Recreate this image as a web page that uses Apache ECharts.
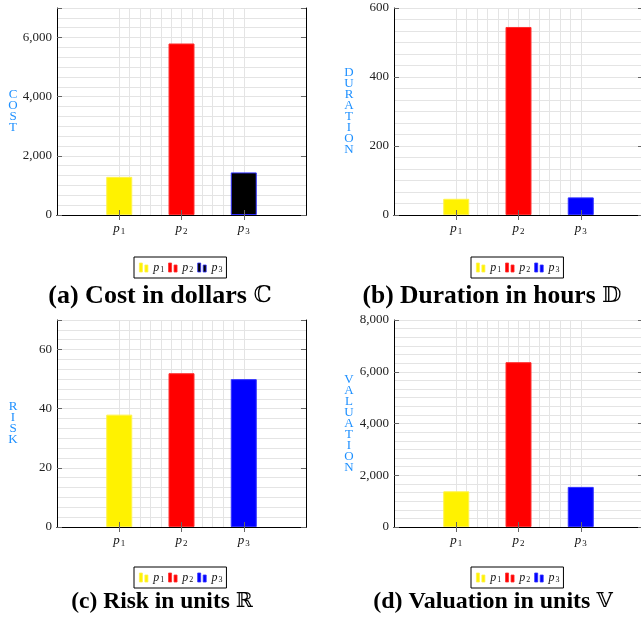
<!DOCTYPE html>
<html><head><meta charset="utf-8">
<script src="https://cdn.jsdelivr.net/npm/echarts@6/dist/echarts.min.js"></script>
<style>html,body{margin:0;padding:0;background:#fff}#c{width:641px;height:618px}</style>
</head><body><div id="c"></div>
<script>
// ---- data ----
const categories = ['p1', 'p2', 'p3'];
const costValues = [1290, 5800, 1440];
const durationValues = [47, 545, 51];
const riskValues = [38, 52, 50];
const valuationValues = [1380, 6370, 1550];
const costTicks = [0, 2000, 4000, 6000];
const durationTicks = [0, 200, 400, 600];
const riskTicks = [0, 20, 40, 60];
const valuationTicks = [0, 2000, 4000, 6000, 8000];

// ---- layout / style ----
const SERIF = '"Liberation Serif","DejaVu Serif",serif';
const BLUE_NAME = '#1e90ff';
const GRIDC = '#e4e4e4';
const panels = [
  {key:'a', values:costValues, ticks:costTicks, max:7000, name:'COST', title:'(a) Cost in dollars ', sym:'ℂ',
   colors:['#fff200','#ff0000','#000000'], borders:['#fff34a','#ff3030','#3030ff'],
   left:57, top:8, nameGap:44, legendLeft:134, legendTop:257, titleX:160, titleY:296, titleSize:26},
  {key:'b', values:durationValues, ticks:durationTicks, max:600, name:'DURATION', title:'(b) Duration in hours ', sym:'𝔻',
   colors:['#fff200','#ff0000','#0000ff'], borders:['#fff34a','#ff3030','#3030ff'],
   left:394, top:8, nameGap:45, legendLeft:471, legendTop:257, titleX:492, titleY:296, titleSize:25.5},
  {key:'c', values:riskValues, ticks:riskTicks, max:70, name:'RISK', title:'(c) Risk in units ', sym:'ℝ',
   colors:['#fff200','#ff0000','#0000ff'], borders:['#fff34a','#ff3030','#3030ff'],
   left:57, top:320, nameGap:44, legendLeft:134, legendTop:567, titleX:162, titleY:602, titleSize:23.5},
  {key:'d', values:valuationValues, ticks:valuationTicks, max:8000, name:'VALUATION', title:'(d) Valuation in units ', sym:'𝕍',
   colors:['#fff200','#ff0000','#0000ff'], borders:['#fff34a','#ff3030','#3030ff'],
   left:394, top:320, nameGap:45, legendLeft:471, legendTop:567, titleX:493, titleY:602, titleSize:24}
];
const W = 249, H = 207;

const subRich = {
  p: {fontFamily: SERIF, fontStyle: 'italic', fontSize: 13, color: '#111', lineHeight: 15},
  s: {fontFamily: SERIF, fontSize: 9, color: '#111', lineHeight: 9, padding: [6, 0, 0, 1]}
};
const legRich = {
  p: {fontFamily: SERIF, fontStyle: 'italic', fontSize: 12, color: '#111', lineHeight: 13},
  s: {fontFamily: SERIF, fontSize: 8, color: '#111', lineHeight: 8, padding: [5, 0, 0, 1]}
};

const grid = [], xAxis = [], yAxis = [], series = [], legend = [], graphic = [];
panels.forEach(P => {
  const gMain = grid.length;
  grid.push({left: P.left, top: P.top, width: W, height: H, outerBoundsMode: 'none', containLabel: false});
  const gV = grid.length;
  grid.push({left: P.left + W / 4, top: P.top, width: W / 2, height: H, outerBoundsMode: 'none', containLabel: false});
  const xData = [''].concat(categories, ['']);
  const tickShow = (idx) => idx >= 1 && idx <= categories.length;
  const step = P.ticks[1] - P.ticks[0];

  const xMain = xAxis.length;
  xAxis.push({type: 'category', gridIndex: gMain, data: xData, boundaryGap: false, position: 'bottom', z: 3,
    axisLine: {show: true, lineStyle: {color: '#000', width: 1}},
    axisTick: {show: true, inside: false, length: 5, interval: (idx) => tickShow(idx), lineStyle: {color: '#666'}},
    axisLabel: {show: true, interval: 0, margin: 6, formatter: v => v ? '{p|' + v[0] + '}{s|' + v.slice(1) + '}' : '', rich: subRich},
    splitLine: {show: false}});
  xAxis.push({type: 'category', gridIndex: gMain, data: xData, boundaryGap: false, position: 'top', z: 3,
    axisLine: {show: true, lineStyle: {color: '#000', width: 1}},
    axisTick: {show: true, inside: false, length: 5, interval: (idx) => tickShow(idx), lineStyle: {color: '#666'}},
    axisLabel: {show: false}, splitLine: {show: false}});
  xAxis.push({type: 'value', gridIndex: gV, min: 0, max: categories.length - 1, interval: 1 / 6, z: 0,
    axisLine: {show: false}, axisTick: {show: false}, axisLabel: {show: false},
    splitLine: {show: true, lineStyle: {color: GRIDC, width: 1}}});

  const yMain = yAxis.length;
  yAxis.push({type: 'value', gridIndex: gMain, min: 0, max: P.max, interval: step, position: 'left', z: 3,
    name: P.name.split('').join('\n'), nameLocation: 'middle', nameGap: P.nameGap, nameRotate: 0,
    nameTextStyle: {color: BLUE_NAME, fontFamily: SERIF, fontSize: 13, lineHeight: 11, align: 'center', verticalAlign: 'middle', padding: [0, 0, 6, 0]},
    axisLine: {show: true, lineStyle: {color: '#000', width: 1}},
    axisTick: {show: true, inside: true, length: 5, lineStyle: {color: '#666'}},
    axisLabel: {formatter: v => P.ticks.includes(v) ? v.toLocaleString('en-US') : '', fontFamily: SERIF, fontSize: 13, color: '#222', margin: 5},
    splitLine: {show: false}});
  yAxis.push({type: 'value', gridIndex: gMain, min: 0, max: P.max, interval: step, position: 'right', z: 3,
    axisLine: {show: true, lineStyle: {color: '#000', width: 1}},
    axisTick: {show: true, inside: true, length: 5, lineStyle: {color: '#666'}},
    axisLabel: {show: false}, splitLine: {show: false}});
  yAxis.push({type: 'value', gridIndex: gMain, min: 0, max: P.max, interval: step / 6, position: 'left', z: 0,
    axisLine: {show: false}, axisTick: {show: false}, axisLabel: {show: false},
    splitLine: {show: true, lineStyle: {color: GRIDC, width: 1}}});
  yAxis.push({type: 'value', gridIndex: gV, min: 0, max: 1, show: false});

  categories.forEach((c, j) => {
    const data = xData.map((_, k) => k === j + 1 ? P.values[j] : '-');
    series.push({type: 'bar', name: P.key + '_' + c, xAxisIndex: xMain, yAxisIndex: yMain, data,
      barWidth: 26, barGap: '-100%', z: 2,
      itemStyle: {color: P.colors[j], borderColor: P.borders[j], borderWidth: 1}});
  });

  legend.push({data: categories.map(c => P.key + '_' + c), left: P.legendLeft, top: P.legendTop,
    orient: 'horizontal', itemWidth: 9, itemHeight: 9, itemGap: 4, padding: [4, 4, 4, 5],
    borderColor: '#000', borderWidth: 1, backgroundColor: '#fff', selectedMode: false,
    icon: 'path://M0,0H3V9H0ZM5.5,2H8.5V9H5.5Z',
    itemStyle: {borderWidth: 0.8},
    formatter: name => '{p|p}{s|' + name.slice(-1) + '}', textStyle: {rich: legRich}});

  graphic.push({type: 'text', x: P.titleX, y: P.titleY,
    style: {text: '{t|' + P.title + '}{m|' + P.sym + '}', align: 'center', verticalAlign: 'middle',
      rich: {t: {fontFamily: SERIF, fontWeight: 'bold', fontSize: P.titleSize, fill: '#000', color: '#000'},
             m: {fontFamily: '"DejaVu Serif","DejaVu Sans",serif', fontWeight: 'normal', fontSize: P.titleSize - 3, fill: '#000', color: '#000'}}}});
});

const chart = echarts.init(document.getElementById('c'), null, {renderer: 'canvas'});
chart.setOption({animation: false, backgroundColor: '#fff', grid, xAxis, yAxis, series, legend, graphic});
</script></body></html>
